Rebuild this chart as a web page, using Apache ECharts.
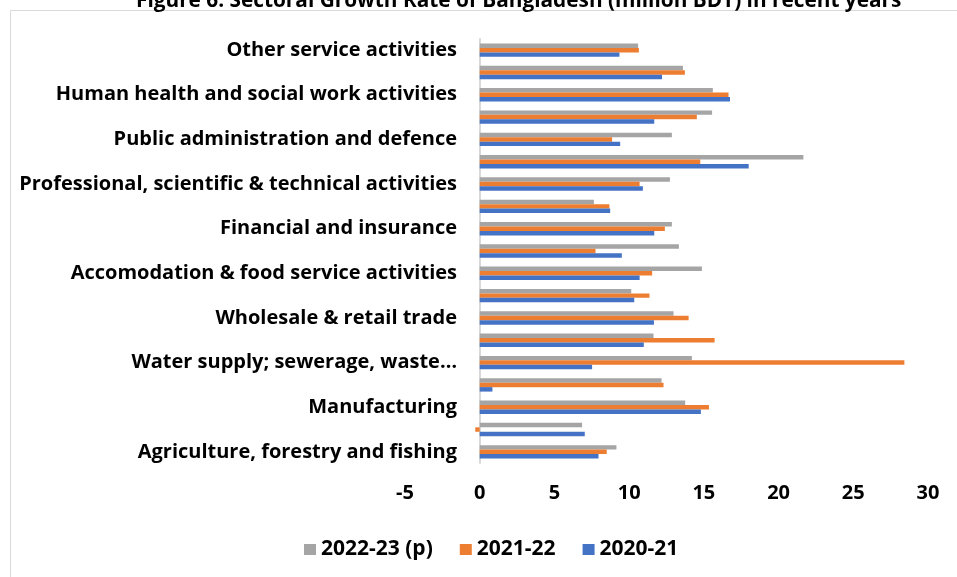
<!DOCTYPE html>
<html>
<head>
<meta charset="utf-8">
<script src="https://cdn.jsdelivr.net/npm/echarts@6/dist/echarts.min.js"></script>
<style>
  html, body { margin: 0; padding: 0; background: #fff; }
  #chart { width: 957px; height: 577px; }
</style>
</head>
<body>
<div id="chart"></div>
<script>
// categories, bottom to top (every other one gets a label, like the original)
const sectors = [
  'Agriculture, forestry and fishing',
  'Mining and quarrying',
  'Manufacturing',
  'Electricity, gas, steam and air conditioning supply',
  'Water supply; sewerage, waste…',
  'Construction',
  'Wholesale & retail trade',
  'Transportation and storage',
  'Accomodation & food service activities',
  'Information and communication',
  'Financial and insurance',
  'Real estate activities',
  'Professional, scientific & technical activities',
  'Administrative and support service activities',
  'Public administration and defence',
  'Education',
  'Human health and social work activities',
  'Arts, entertainment and recreation',
  'Other service activities'
];

const fy2223 = [9.15, 6.85, 13.75, 12.17, 14.2, 11.63, 12.97, 10.14, 14.87, 13.33,
  12.86, 7.64, 12.73, 21.66, 12.86, 15.55, 15.6, 13.6, 10.6];
const fy2122 = [8.5, -0.3, 15.34, 12.3, 28.42, 15.72, 13.98, 11.36, 11.54, 7.75,
  12.39, 8.68, 10.7, 14.76, 8.86, 14.53, 16.65, 13.73, 10.65];
const fy2021 = [7.95, 7.03, 14.8, 0.85, 7.52, 10.98, 11.66, 10.34, 10.7, 9.51,
  11.68, 8.73, 10.92, 18.0, 9.4, 11.68, 16.75, 12.2, 9.35];

const seriesNames = ['2022-23 (p)', '2021-22', '2020-21'];
const colors = ['#A5A5A5', '#ED7D31', '#4472C4'];

const FONT = 'Open Sans';
const txt = { fontFamily: FONT, fontWeight: 'bold', fontSize: 20, color: '#000' };
const chart = echarts.init(document.getElementById('chart'));

const series = [fy2223, fy2122, fy2021].map((vals, i) => ({
  name: seriesNames[i],
  type: 'bar',
  data: vals,
  barGap: '0%',
  barCategoryGap: '40%',
  itemStyle: { color: colors[i] }
}));

chart.setOption({
  animation: false,
  color: colors,
  title: {
    text: 'Figure 6: Sectoral Growth Rate of Bangladesh (million BDT) in recent years',
    left: 131,
    top: -14,
    textStyle: Object.assign({}, txt, { fontSize: 20.8 })
  },
  graphic: [{
    type: 'rect',
    shape: { x: 10.5, y: 10.5, width: 960, height: 580 },
    style: { fill: 'none', stroke: '#d9d9d9', lineWidth: 1 },
    z: -1
  }],
  legend: {
    data: seriesNames,
    top: 534,
    left: 299,
    icon: 'rect',
    itemWidth: 12,
    itemHeight: 11,
    itemGap: 27,
    textStyle: Object.assign({}, txt, { fontSize: 21 })
  },
  grid: { left: 405, right: 29, top: 39, bottom: 114 },
  xAxis: {
    type: 'value',
    min: -5,
    max: 30,
    interval: 5,
    axisLine: { show: false },
    axisTick: { show: false },
    splitLine: { show: false },
    axisLabel: Object.assign({ margin: 20 }, txt)
  },
  yAxis: {
    type: 'category',
    data: sectors,
    axisLine: { show: true, onZero: true, lineStyle: { color: '#d9d9d9', width: 2 } },
    axisTick: { show: false },
    axisLabel: Object.assign({ interval: 1, margin: -52 }, txt)
  },
  series
});
</script>
</body>
</html>
